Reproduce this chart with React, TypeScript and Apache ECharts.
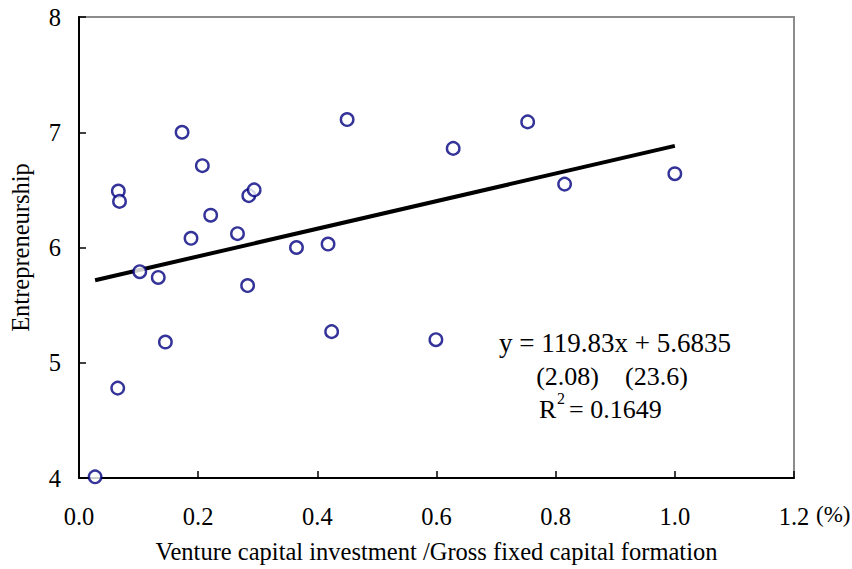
import React, { useEffect, useRef } from "react";
import * as echarts from "echarts";

// Venture capital investment / Gross fixed capital formation (%)
const vcShare: number[] = [
  0.027, 0.065, 0.066, 0.068, 0.102, 0.133, 0.145, 0.173, 0.188, 0.207, 0.221, 0.266,
  0.283, 0.285, 0.294, 0.365, 0.418, 0.424, 0.450, 0.599, 0.628, 0.753, 0.815, 1.0,
];
// Entrepreneurship index
const entrepreneurship: number[] = [
  4.01, 4.78, 6.49, 6.40, 5.79, 5.74, 5.18, 7.00, 6.08, 6.71, 6.28, 6.12,
  5.67, 6.45, 6.50, 6.00, 6.03, 5.27, 7.11, 5.20, 6.86, 7.09, 6.55, 6.64,
];
// Regression: y = 119.83x + 5.6835 (x as a fraction, axis in %)
const slope = 119.83;
const intercept = 5.6835;
const equationText = "y = 119.83x + 5.6835";
const tStatText = "(2.08)    (23.6)";
const r2Value = "0.1649";

const xTicks = { min: 0, max: 1.2, interval: 0.2 };
const yTicks = { min: 4, max: 8, interval: 1 };
const xTitle = "Venture capital investment /Gross fixed capital formation";
const yTitle = "Entrepreneurship";
const unitText = "(%)";

const FONT = "'Liberation Serif', 'Times New Roman', serif";

export default function App() {
  const ref = useRef<HTMLDivElement>(null);
  useEffect(() => {
    if (!ref.current) return;
    const chart = echarts.init(ref.current, null, { renderer: "svg" });
    const points = vcShare.map((x, i) => [x, entrepreneurship[i]]);
    const xMin = Math.min(...vcShare);
    const xMax = Math.max(...vcShare);
    const fit = [xMin, xMax].map((x) => [x, intercept + (slope * x) / 100]);
    const fs = 24.5;
    const afs = 26;
    chart.setOption({
      animation: false,
      backgroundColor: "#ffffff",
      grid: {
        left: 77,
        top: 17,
        right: 58,
        bottom: 90,
        show: true,
        borderColor: "#8c8c8c",
        borderWidth: 2,
        backgroundColor: "transparent",
      },
      xAxis: {
        type: "value",
        min: xTicks.min,
        max: xTicks.max,
        interval: xTicks.interval,
        name: xTitle,
        nameLocation: "middle",
        nameGap: 61,
        nameTextStyle: { fontFamily: FONT, fontSize: fs, color: "#000" },
        axisLine: { show: true, lineStyle: { color: "#000", width: 2 } },
        axisTick: { show: true, inside: true, length: 7, lineStyle: { color: "#000", width: 1.5 } },
        axisLabel: {
          fontFamily: FONT,
          fontSize: fs,
          color: "#000",
          margin: 26,
          formatter: (v: number) => v.toFixed(1),
        },
        splitLine: { show: false },
      },
      yAxis: {
        type: "value",
        min: yTicks.min,
        max: yTicks.max,
        interval: yTicks.interval,
        name: yTitle,
        nameLocation: "middle",
        nameGap: 46,
        nameRotate: 90,
        nameTextStyle: { fontFamily: FONT, fontSize: fs, color: "#000" },
        axisLine: { show: true, lineStyle: { color: "#000", width: 2 } },
        axisTick: { show: true, inside: true, length: 7, lineStyle: { color: "#000", width: 1.5 } },
        axisLabel: { fontFamily: FONT, fontSize: fs, color: "#000", margin: 18 },
        splitLine: { show: false },
      },
      series: [
        {
          type: "line",
          data: fit,
          symbol: "none",
          lineStyle: { color: "#000", width: 4 },
          z: 2,
        },
        {
          type: "scatter",
          data: points,
          symbol: "circle",
          symbolSize: 12.5,
          itemStyle: { color: "#ffffff", borderColor: "#000080", borderWidth: 2.4 },
          z: 3,
        },
      ],
      graphic: [
        {
          type: "text",
          x: 816,
          y: 514,
          style: { text: unitText, fontFamily: FONT, fontSize: 23, fill: "#000", verticalAlign: "middle" },
        },
        {
          type: "text",
          x: 615,
          y: 343,
          style: {
            text: equationText,
            fontFamily: FONT,
            fontSize: 27,
            fill: "#000",
            align: "center",
            verticalAlign: "middle",
          },
        },
        {
          type: "text",
          x: 612,
          y: 376,
          style: {
            text: tStatText,
            fontFamily: FONT,
            fontSize: afs,
            fill: "#000",
            align: "center",
            verticalAlign: "middle",
          },
        },
        {
          type: "text",
          x: 539,
          y: 409,
          style: { text: "R", fontFamily: FONT, fontSize: afs, fill: "#000", verticalAlign: "middle" },
        },
        {
          type: "text",
          x: 557,
          y: 398,
          style: { text: "2", fontFamily: FONT, fontSize: 16, fill: "#000", verticalAlign: "middle" },
        },
        {
          type: "text",
          x: 569,
          y: 409,
          style: {
            text: "= " + r2Value,
            fontFamily: FONT,
            fontSize: afs,
            fill: "#000",
            verticalAlign: "middle",
          },
        },
      ],
    });
    return () => chart.dispose();
  }, []);
  return <div ref={ref} style={{ width: 852, height: 569, position: "absolute", left: 0, top: 0 }} />;
}
